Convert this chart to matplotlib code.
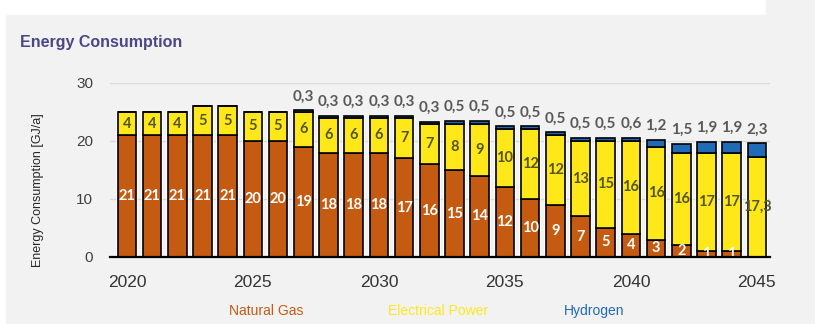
import numpy as np
import matplotlib
matplotlib.use("Agg")
import matplotlib.pyplot as plt
from matplotlib.patches import Rectangle

years = list(range(2020, 2046))
natural_gas = [21, 21, 21, 21, 21, 20, 20, 19, 18, 18, 18, 17, 16, 15, 14, 12,
               10, 9, 7, 5, 4, 3, 2, 1, 1, 0]
electrical = [4, 4, 4, 5, 5, 5, 5, 6, 6, 6, 6, 7, 7, 8, 9, 10,
              12, 12, 13, 15, 16, 16, 16, 17, 17, 17.3]
hydrogen = [0, 0, 0, 0, 0, 0, 0, 0.3, 0.3, 0.3, 0.3, 0.3, 0.3, 0.5, 0.5, 0.5,
            0.5, 0.5, 0.5, 0.5, 0.6, 1.2, 1.5, 1.9, 1.9, 2.3]
y_ticks = [0, 10, 20, 30]
x_ticks = [2020, 2025, 2030, 2035, 2040, 2045]

C_GAS = "#c55a11"
C_ELEC = "#ffe81a"
C_H2 = "#1f6bb5"
BG = "#f2f2f2"


def fmt(v):
    if float(v).is_integer():
        return str(int(v))
    return f"{v:.1f}".replace(".", ",")


fig = plt.figure(figsize=(8.15, 3.24), dpi=100, facecolor="white")
# grey panel behind everything
fig.patches.append(Rectangle((6 / 815, 0), 1, (324 - 15) / 324,
                             transform=fig.transFigure, color=BG, zorder=-10))
fig.patches.append(Rectangle((766 / 815, 0), 1, 1, transform=fig.transFigure,
                             color=BG, zorder=-10))

ax = fig.add_axes([110 / 815, 67 / 324, 660 / 815, 174 / 324])
ax.set_facecolor("none")

x = np.array(years)
gas = np.array(natural_gas, dtype=float)
elec = np.array(electrical, dtype=float)
h2 = np.array(hydrogen, dtype=float)
total = gas + elec + h2

# light backing between bars
ax.bar(x, total, width=0.9, color="white", alpha=0.7, zorder=1, linewidth=0)
ax.bar(x, gas, width=0.74, color=C_GAS, edgecolor="black", linewidth=1.2, zorder=2)
ax.bar(x, elec, width=0.74, bottom=gas, color=C_ELEC, edgecolor="black",
       linewidth=1.2, zorder=2)
ax.bar(x, h2, width=0.74, bottom=gas + elec, color=C_H2, edgecolor="black",
       linewidth=1.2, zorder=2)

lab_font = dict(family=["Lato", "DejaVu Sans"], fontsize=10.5, fontweight="bold")
for xi, g, e, h, t in zip(x, gas, elec, h2, total):
    if g > 0:
        ax.text(xi, g / 2, fmt(g), ha="center", va="center", color="white",
                zorder=3, **lab_font)
    if e > 0:
        ax.text(xi, g + e / 2, fmt(e), ha="center", va="center", color="#55552a",
                zorder=3, **lab_font)
    if h > 0:
        ax.annotate(fmt(h), (xi, t), xytext=(0, 5), textcoords="offset points",
                    ha="center", va="bottom", color="#595959", zorder=3,
                    annotation_clip=False, family=["Lato", "DejaVu Sans"],
                    fontsize=11, fontweight="bold")

ax.set_xlim(2019.33, 2045.52)
ax.set_ylim(0, 30)
ax.set_yticks(y_ticks)
ax.set_xticks(x_ticks)
ax.yaxis.grid(True, color="#d9d9d9", linewidth=1.0, zorder=0)
ax.set_axisbelow(True)
for s in ["top", "right", "left"]:
    ax.spines[s].set_visible(False)
ax.spines["bottom"].set_color("black")
ax.spines["bottom"].set_linewidth(1.6)
ax.spines["bottom"].set_zorder(4)

ax.tick_params(axis="x", length=0, pad=13, labelsize=12.5, labelcolor="#333333")
ax.tick_params(axis="y", length=0, pad=12, labelsize=11, labelcolor="#404040")
for lab in ax.get_xticklabels() + ax.get_yticklabels():
    lab.set_family(["Liberation Sans", "DejaVu Sans"])

fig.text(38 / 815, 1 - 190 / 324, "Energy Consumption [GJ/a]", rotation=90,
         ha="center", va="center", fontsize=9, color="#262626",
         family=["Liberation Sans", "DejaVu Sans"])

fig.text(20 / 815, 1 - 42 / 324, "Energy Consumption", ha="left", va="center",
         fontsize=11.5, fontweight="bold", color="#4a4785",
         family=["Liberation Sans", "DejaVu Sans"])

leg_y = 1 - 311 / 324
for cx, txt, col in [(266, "Natural Gas", C_GAS), (438, "Electrical Power", C_ELEC),
                     (594, "Hydrogen", C_H2)]:
    fig.text(cx / 815, leg_y, txt, ha="center", va="center", fontsize=10,
             color=col, family=["Liberation Sans", "DejaVu Sans"])

fig.savefig("out.png", dpi=100, facecolor=fig.get_facecolor())
